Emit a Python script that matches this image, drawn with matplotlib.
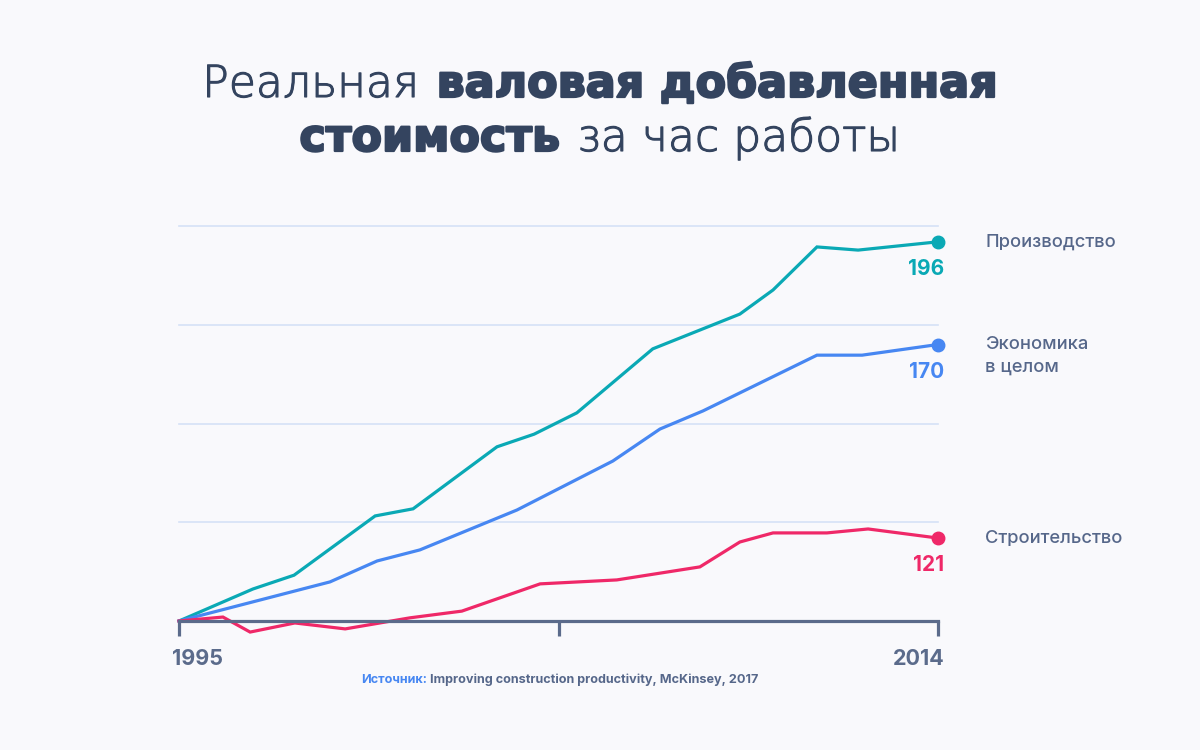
import matplotlib
matplotlib.use("Agg")
import matplotlib.pyplot as plt
from matplotlib import font_manager
import matplotlib.patheffects as pe

# ---- data ----
manuf_years = [1995, 1996.85, 1997.88, 1999.91, 2000.86, 2002.96, 2003.89, 2004.96,
               2006.86, 2009.04, 2009.87, 2010.97, 2012.0, 2014]
manuf_vals = [100, 108.1, 111.6, 126.6, 128.4, 144.1, 147.3, 152.7,
              168.9, 177.7, 183.8, 194.7, 193.9, 196]

econ_years = [1995, 1998.78, 1999.96, 2001.03, 2003.46, 2005.86, 2007.04, 2008.12,
              2010.97, 2012.1, 2014]
econ_vals = [100, 109.9, 115.2, 118.0, 128.1, 140.5, 148.6, 153.2, 167.3, 167.3, 170]

constr_years = [1995, 1996.1, 1996.78, 1997.9, 1999.16, 2000.78, 2002.08, 2004.04,
                2005.96, 2008.04, 2009.04, 2009.87, 2011.22, 2012.25, 2014]
constr_vals = [100, 101.0, 97.2, 99.5, 98.0, 100.8, 102.5, 109.4,
               110.4, 113.7, 120.0, 122.3, 122.3, 123.3, 121]

series_names = ["Производство", "Экономика\nв целом", "Строительство"]
end_labels = ["196", "170", "121"]
tick_years = [1995, 2004.5, 2014]
tick_labels = ["1995", "", "2014"]
grid_vals = [125, 150, 175, 200]

colors = ["#0aa9b5", "#4787f2", "#ef2868"]
BG = "#f9f9fc"
TEXT = "#34445f"
LABEL = "#56678a"
AXIS = "#5b6b8b"
GRID = "#d6e1f6"

plt.rcParams['font.family'] = ['Inter', 'DejaVu Sans']

fig = plt.figure(figsize=(12, 7.5), dpi=100, facecolor=BG)
ax = fig.add_axes([179/1200, 129/750, 759/1200, 395/750])
ax.set_facecolor(BG)
ax.set_xlim(1995, 2014)
ax.set_ylim(100, 200)

for v in grid_vals:
    ax.axhline(v, color=GRID, lw=1.2, zorder=1, clip_on=False)

data = [(manuf_years, manuf_vals), (econ_years, econ_vals), (constr_years, constr_vals)]
for (xs, ys), c, lab, name in zip(data, colors, end_labels, series_names):
    ax.plot(xs, ys, color=c, lw=2.3, zorder=3, clip_on=False, solid_joinstyle='miter')
    ax.plot([xs[-1]], [ys[-1]], 'o', color=c, ms=9, zorder=4, clip_on=False)
    ax.annotate(lab, xy=(xs[-1], ys[-1]), xytext=(4.5, -19.5), textcoords='offset points',
                ha='right', va='center', fontsize=15, fontweight='bold', color=c)
    lines = name.split("\n")
    for i, ln in enumerate(lines):
        ax.annotate(ln, xy=(xs[-1], ys[-1]), xytext=(34, -16 * i), textcoords='offset points',
                    ha='left', va='center', fontsize=13.2, fontweight='medium', color=LABEL)

for s in ['top', 'right', 'left']:
    ax.spines[s].set_visible(False)
ax.spines['bottom'].set_color(AXIS)
ax.spines['bottom'].set_linewidth(2.3)
ax.spines['bottom'].set_zorder(5)
ax.set_yticks([])
ax.set_xticks(tick_years)
ax.set_xticklabels([])
ax.tick_params(axis='x', length=11, width=2.3, color=AXIS, direction='out')

ax.annotate(tick_labels[0], xy=(tick_years[0], 0), xycoords=('data', 'axes fraction'),
            xytext=(-5, -27.5), textcoords='offset points', ha='left', va='center',
            fontsize=15.5, fontweight='bold', color=AXIS)
ax.annotate(tick_labels[-1], xy=(tick_years[-1], 0), xycoords=('data', 'axes fraction'),
            xytext=(5, -27.5), textcoords='offset points', ha='right', va='center',
            fontsize=15.5, fontweight='bold', color=AXIS)

# ---- title with mixed weights ----
fig.canvas.draw()
renderer = fig.canvas.get_renderer()

has_dv_light = any(f.name == 'DejaVu Sans' and f.weight in (200, 'extra light', 'ExtraLight')
                   for f in font_manager.fontManager.ttflist)
if has_dv_light:
    LIGHT = dict(fontweight=200, family=['DejaVu Sans'])
    LIGHT_FX = [pe.withStroke(linewidth=0.8, foreground=TEXT)]
else:
    LIGHT = dict(fontweight='light', family=['Inter', 'DejaVu Sans'])
    LIGHT_FX = None
BOLD = dict(fontweight='bold', family=['DejaVu Sans'])
BOLD_FX = [pe.withStroke(linewidth=1.6, foreground=TEXT)]

def width_of(s, size, kw):
    t = fig.text(0, 0, s, fontsize=size, **kw)
    w = t.get_window_extent(renderer).width
    t.remove()
    return w

light_size = 30 * 217 / width_of("Реальная", 30, LIGHT)
bold_size = 30 * 560 / width_of("валовая добавленная", 30, BOLD)

def mixed_line(y_px, parts):
    texts, widths = [], []
    for s, kw, size, fx in parts:
        t = fig.text(0, 1 - y_px / 750, s, fontsize=size, va='baseline', ha='left', color=TEXT, **kw)
        if fx:
            t.set_path_effects(fx)
        texts.append(t)
        widths.append(t.get_window_extent(renderer).width)
    gap = 17
    total = sum(widths) + gap * (len(parts) - 1)
    x = (1200 - total) / 2
    for t, w in zip(texts, widths):
        t.set_x(x / 1200)
        x += w + gap

mixed_line(97, [("Реальная", LIGHT, light_size, LIGHT_FX),
                ("валовая добавленная", BOLD, bold_size, BOLD_FX)])
mixed_line(151, [("стоимость", BOLD, bold_size, BOLD_FX),
                 ("за час работы", LIGHT, light_size, LIGHT_FX)])

# ---- source ----
src_parts = [("Источник:", "#4787f2"), ("Improving construction productivity, McKinsey, 2017", LABEL)]
ts = [fig.text(0, 1 - 680 / 750, s, fontsize=9.1, fontweight='bold', color=c, va='center', ha='left')
      for s, c in src_parts]
ws = [t.get_window_extent(renderer).width for t in ts]
gap = 3.5
x = 560 - (sum(ws) + gap) / 2
for t, w in zip(ts, ws):
    t.set_x(x / 1200)
    x += w + gap

fig.savefig("out.png", dpi=100, facecolor=BG)
